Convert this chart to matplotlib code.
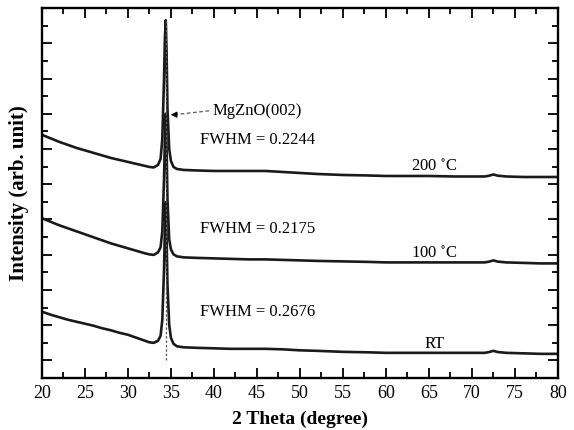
import numpy as np
import matplotlib
matplotlib.use("Agg")
import matplotlib.pyplot as plt
from matplotlib.ticker import MultipleLocator, FixedLocator

plt.rcParams['font.family'] = ['Liberation Serif', 'DejaVu Serif']
plt.rcParams['mathtext.fontset'] = 'stix'

# 2 theta positions (degree)
two_theta = [20, 21, 22, 23, 24, 25, 26, 27, 28, 29, 30, 31, 32, 32.5, 33, 33.5,
             33.8, 34.0, 34.2, 34.3, 34.4, 34.5, 34.6, 34.8, 35.0, 35.3, 35.7,
             36.5, 38, 40, 42, 44, 46, 48, 50, 52, 55, 58, 60, 62, 65, 68, 70,
             71.5, 72, 72.5, 73, 74, 76, 78, 80]

# intensities (arb. unit), curves already offset as in the figure
int_rt = [66, 63, 60.5, 58, 56, 54, 52, 49.5, 47.5, 45, 43, 40, 37, 35.5, 35, 37,
          42, 58, 108, 148, 175, 138, 93, 53, 40, 34, 31.5,
          30.5, 30, 29.5, 29, 29, 29, 28.5, 27.5, 27, 26, 25.5, 25, 25, 25, 25, 25,
          25, 25.8, 27, 25.8, 25, 24.5, 24, 24]
int_100 = [159, 155.5, 152, 149, 146, 143, 140, 137, 134, 131.5, 129, 126.5, 124, 123, 122.5, 125,
           130, 146, 198, 238, 263, 228, 178, 138, 128, 123, 121,
           120, 119.5, 119, 118.5, 118, 118, 117.5, 117, 116.5, 116, 115.5, 115, 115, 115, 115, 115,
           115, 115.8, 117, 115.8, 115, 114.5, 114, 114]
int_200 = [242, 238.5, 235, 232, 229, 226.5, 224, 221.5, 219, 217, 215, 213, 211, 210, 209.5, 212,
           218, 238, 298, 338, 356, 323, 268, 228, 216, 210, 208,
           207, 206.5, 206, 206, 206, 206, 205, 204, 203, 202, 201.5, 201, 201, 201, 200.5, 200.5,
           200.5, 201.3, 202.5, 201.3, 200.5, 200, 200, 200]

peak_pos = 34.4
fwhm_labels = ['FWHM = 0.2244', 'FWHM = 0.2175', 'FWHM = 0.2676']
fwhm_y = [237, 148, 66]
temp_labels = ['200 $^{\\circ}$C', '100 $^{\\circ}$C', 'RT']
temp_y = [210, 123, 34]

fig = plt.figure(figsize=(5.74, 4.30), dpi=100)
ax = fig.add_axes([0.073, 0.121, 0.899, 0.860])

for y in [int_rt, int_100, int_200]:
    ax.plot(two_theta, y, color='#1a1a1a', lw=1.9)

# dotted guide through the peak
ax.vlines(peak_pos, 18, 356, colors='0.35', linestyles=(0, (2, 1.5)), lw=0.9)

# MgZnO(002) label with dashed leader and arrow head
ax.plot([35.4, 39.6], [262, 266], color='0.35', ls=(0, (3, 2)), lw=0.9)
ax.annotate('', xy=(34.65, 262), xytext=(35.6, 262),
            arrowprops=dict(arrowstyle='-|>', color='k', lw=0.8, mutation_scale=9))
ax.text(39.8, 266, 'MgZnO(002)', fontsize=12, va='center', ha='left')

for lab, yy in zip(fwhm_labels, fwhm_y):
    ax.text(38.4, yy, lab, fontsize=12, va='center', ha='left')
for lab, yy in zip(temp_labels, temp_y):
    ax.text(65.6, yy, lab, fontsize=12, va='center', ha='center')

ax.set_xlim(20, 80)
ax.set_ylim(0, 368)
ax.xaxis.set_major_locator(MultipleLocator(5))
ax.xaxis.set_minor_locator(MultipleLocator(2.5))
step = 368 / 21
ax.yaxis.set_major_locator(FixedLocator([step * k for k in range(1, 21, 2)]))
ax.yaxis.set_minor_locator(FixedLocator([step * k for k in range(2, 21, 2)]))
ax.set_yticklabels([])

ax.tick_params(which='both', direction='in', top=True, right=True, width=1.3)
ax.tick_params(which='major', length=7, labelsize=13, pad=5)
ax.tick_params(which='minor', length=4)
for s in ax.spines.values():
    s.set_linewidth(1.7)

ax.set_xlabel('2 Theta (degree)', fontsize=14, fontweight='bold', labelpad=6)
ax.set_ylabel('Intensity (arb. unit)', fontsize=15, fontweight='bold', labelpad=4)

fig.savefig('out.png', dpi=100)
